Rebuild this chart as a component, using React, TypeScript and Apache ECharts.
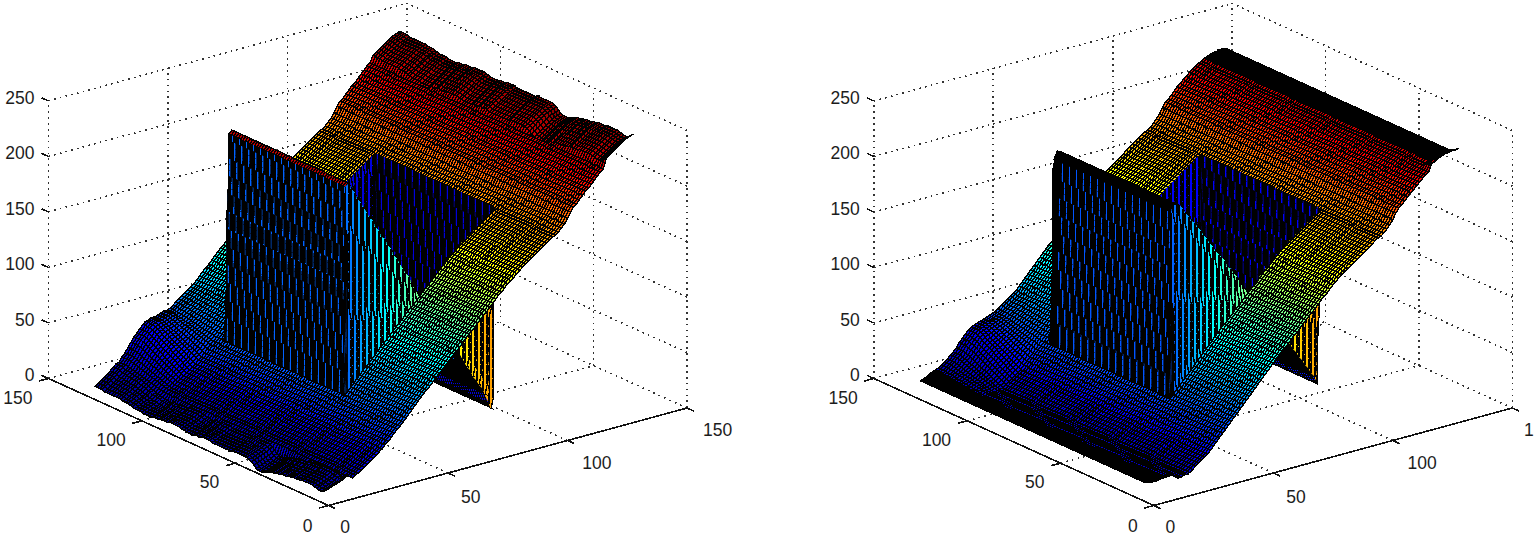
import React, { useEffect, useRef } from "react";
import * as echarts from "echarts";

const xTicks = [0, 50, 100, 150];
const yTicks = [0, 50, 100, 150];
const zTicks = [0, 50, 100, 150, 200, 250];
const xTickLabels = ["0", "50", "100", "150"];
const xTickLabelsRight = ["0", "50", "100", "1"];
const yTickLabels = ["0", "50", "100", "150"];
const zTickLabels = ["0", "50", "100", "150", "200", "250"];

// height read along x (one value every 1.25 units)
const leftRamp = [9,10,11,12,13,14,16,17,19,21,22,24,26,28,30,32,34,36,38,41,43,46,49,52,54,57,60,63,66,69,72,75,78,80,83,86,89,92,94,97,100,103,106,108,111,114,117,120,122,125,128,131,134,136,139,142,145,148,150,153,156,158,160,163,165,167,169,171,173,175,177,179,181,183,185,187,188,190,193,196,200,205,209,211,214,217,220,222,225,228,231,234,236,239,241,243,245,247,249,251,252,253,254];
const rightRamp = [17,17,17,18,18,18,18,19,19,19,20,20,21,23,25,27,29,31,33,36,39,42,45,48,51,54,57,60,63,66,69,72,75,78,81,84,87,90,93,96,99,102,105,108,110,113,116,119,121,124,127,130,133,135,138,141,144,147,149,152,155,157,160,162,164,166,168,170,172,174,176,178,180,182,184,186,187,189,192,195,199,204,208,210,213,216,219,221,224,226,229,231,233,235,236,238,239,240,241,241,242,242,242];
// height read inside the raised block, over columns 26 to 75
const leftBlock = [243,246,240,235,230,225,220,215,210,205,200,195,190,186,181,176,171,166,161,156,151,146,141,136,131,127,122,117,113,108,103,98,93,89,84,79,75,70,65,60,56,51,46,41,37,32,27,22,13,8];
const rightBlock = [220,227,226,224,220,216,212,208,204,200,196,192,188,184,179,175,171,167,163,158,154,150,146,142,137,133,129,125,121,116,112,108,104,100,96,91,87,83,79,75,71,67,62,58,54,50,46,42,37,30];
// offsets read along y from the rough silhouette at the two rims of the surface (one value every 1.25 units)
const leftRowBump = [6,4,2,1,1,2,2,3,3,3,3,3,2,2,2,2,1,1,0,0,0,-1,-1,-2,-2,-3,-4,-5,-6,-6,-6,-5,-3,-1,0,1,1,1,1,1,1,1,0,0,0,0,0,0,0,0,0,1,1,1,1,0,0,0,-1,-1,-1,-1,0,0,1,1,1,1,1,0,0,0,0,-1,-1,-1,-2,-2,-2,-2,-1,-1,-1,-1,0,0,1,1,1,2,2,2,2,2,2,2,2,3,3,3,3];
const rightRowBump = [5,3,2,1,0,0,0,0,0,0,0,0,0,0,0,0,0,0,0,0,0,0,0,0,0,0,0,0,0,0,0,0,0,0,0,0,0,0,0,0,0,0,0,0,0,0,0,0,0,0,0,0,0,0,0,0,0,0,0,0,0,0,0,0,0,0,0,0,0,0,0,0,0,0,0,0,0,0,0,0,0,0,0,0,0,0,0,0,0,0,0,0,0,0,0,0,0,0,0,0,0];
// lift of the far y edge over its first columns (the shoulder in its silhouette)
const farEdgeLift = [0,1,2,3,4,5,6,7,9,11,13,15,17,19,20,21,22,22,21,19,17,15,13,11,9,7,6,5,4,3,2,1,0];
const farEdgeWeight = [0.06,0.12,0.18,0.24,0.3,0.36,0.42,0.48,0.54,0.6,0.66,0.72,0.78,0.84,0.9,0.95,1,1,1,1];

const GRID_STEP = 1.25;
const BLOCK_I0 = 26, BLOCK_I1 = 75, BLOCK_J0 = 26, BLOCK_J1 = 76;
const ROW_COUNT = 101;

const O = [328.5, 505.5];
const EX = [2.39, -0.65];
const EY = [-1.867, -0.847];
const EZ = -1.11;
const RIGHT_SHIFT = 825.3;
const WALL_LINE = 1.3;
const MESH_LINE = 1.4;
const STRIPE_EVERY = 3;
const STRIPE_STEP_PX = 18;
const STRIPE_WIDTH = 0.55;
const PIECE_PX = 6;

function jet(t: number) {
  const c = (v: number) => Math.round(255 * Math.max(0, Math.min(1, v)));
  const r = Math.min(4 * t - 1.5, -4 * t + 4.5);
  const g = Math.min(4 * t - 0.5, -4 * t + 3.5);
  const b = Math.min(4 * t + 0.5, -4 * t + 2.5);
  return `rgb(${c(r)},${c(g)},${c(b)})`;
}

function proj(shift: number, x: number, y: number, z: number) {
  return [O[0] + shift + EX[0] * x + EY[0] * y, O[1] + EX[1] * x + EY[1] * y + EZ * z];
}
const snap = (v: number) => Math.round((v - 1) / 2) * 2 + 1;

type Panel = { shift: number; ramp: number[]; block: number[]; bump: number[]; rim: boolean; xLabels: string[] };
const panels: Panel[] = [
  { shift: 0, ramp: leftRamp, block: leftBlock, bump: leftRowBump, rim: false, xLabels: xTickLabels },
  { shift: RIGHT_SHIFT, ramp: rightRamp, block: rightBlock, bump: rightRowBump, rim: true, xLabels: xTickLabelsRight },
];

const inBlock = (i: number, j: number) => i >= BLOCK_I0 && i <= BLOCK_I1 && j >= BLOCK_J0 && j <= BLOCK_J1;

function heightAt(p: Panel, i: number, j: number) {
  if (inBlock(i, j)) return p.block[i - BLOCK_I0];
  let h = p.ramp[i];
  if (i < 8 || i > 92) h += p.bump[j];
  const w = j - (ROW_COUNT - farEdgeWeight.length);
  if (w >= 0 && i < farEdgeLift.length) h += farEdgeLift[i] * farEdgeWeight[w];
  return h;
}

function surfaceSeries(p: Panel, name: string) {
  const cols = p.ramp.length;
  const cells: number[][] = [];
  for (let i = cols - 2; i >= 0; i--) for (let j = ROW_COUNT - 2; j >= 0; j--) cells.push([i, j]);
  return {
    type: "custom", name, z: 3, silent: true, clip: false, progressive: 0, animation: false,
    data: cells, encode: { x: 0, y: 1 },
    renderItem(params: any, api: any) {
      const [i, j] = cells[params.dataIndex];
      const corner = (a: number, b: number) => api.coord(proj(p.shift, a * GRID_STEP, b * GRID_STEP, heightAt(p, a, b)));
      const h00 = heightAt(p, i, j), h10 = heightAt(p, i + 1, j), h01 = heightAt(p, i, j + 1), h11 = heightAt(p, i + 1, j + 1);
      let fill = jet((inBlock(i, j) ? h00 : p.ramp[i]) / 258);
      const inJ = j >= BLOCK_J0 && j <= BLOCK_J1;
      if (j === BLOCK_J1 && i >= BLOCK_I0 && i <= BLOCK_I1) fill = jet(p.rim ? 0.12 : 0.09);
      if (i === BLOCK_I1 && inJ) fill = jet(p.rim ? 0.12 : 0.09);
      if (p.rim && (i < 5 || i >= 95)) fill = "#000";
      if (p.rim && i >= BLOCK_I0 && i <= BLOCK_I0 + 1 && inJ) fill = "#000";
      if (p.rim && i === BLOCK_I0 - 1 && j >= BLOCK_J1 - 2 && j <= BLOCK_J1) fill = "#000";
      const A = corner(i, j), B = corner(i + 1, j), C = corner(i + 1, j + 1), D = corner(i, j + 1);
      const alongI = Math.abs(h10 - h00) > 25 || Math.abs(h11 - h01) > 25;
      const alongJ = Math.abs(h01 - h00) > 25 || Math.abs(h11 - h10) > 25;
      if (!alongI && !alongJ) {
        return {
          type: "polygon",
          shape: { points: [A, B, C, D] },
          style: { fill, stroke: "#000", lineWidth: MESH_LINE },
        };
      }
      const lerp = (a: any, b: any, t: number) => [a[0] + (b[0] - a[0]) * t, a[1] + (b[1] - a[1]) * t];
      const children: any[] = [];
      if (alongI) {
        // wall facing the viewer along x: the dense mesh leaves only thin staggered stripes of colour
        const dh = Math.max(Math.abs(h10 - h00), Math.abs(h11 - h01));
        const hPx = dh * 1.11;
        const n = Math.max(1, Math.ceil(hPx / PIECE_PX));
        for (let k = 0; k < n; k++) {
          const stagger = Math.floor(((k / n) * hPx) / STRIPE_STEP_PX);
          const lit = fill !== "#000" && ((j - stagger) % STRIPE_EVERY + STRIPE_EVERY) % STRIPE_EVERY === 0;
          const p0 = lerp(A, B, k / n), p1 = lerp(A, B, (k + 1) / n);
          const q0 = lerp(D, C, k / n), q1 = lerp(D, C, (k + 1) / n);
          children.push({ type: "polygon", shape: { points: [p0, p1, q1, q0] }, style: { fill: "#000", stroke: "#000", lineWidth: 0.6 } });
          if (lit) {
            const a0 = lerp(p0, q0, STRIPE_WIDTH), a1 = lerp(p1, q1, STRIPE_WIDTH);
            children.push({ type: "polygon", shape: { points: [p0, p1, a1, a0] }, style: { fill, stroke: fill, lineWidth: 0.2 } });
          }
        }
        return { type: "group", children };
      }
      // wall facing the viewer along y: split its height so each piece falls on the pixel lattice on its own
      const sn = (q: number[]) => [snap(q[0]), snap(q[1])];
      const dh = Math.max(Math.abs(h01 - h00), Math.abs(h11 - h10));
      const n = Math.max(1, Math.ceil((dh * 1.11) / 10));
      for (let k = 0; k < n; k++) {
        const p0 = sn(lerp(A, D, k / n)), p1 = sn(lerp(A, D, (k + 1) / n));
        const q0 = sn(lerp(B, C, k / n)), q1 = sn(lerp(B, C, (k + 1) / n));
        children.push({ type: "polygon", shape: { points: [p0, p1, q1, q0] }, style: { fill, stroke: fill, lineWidth: 0.6 } });
        children.push({ type: "polyline", shape: { points: [p0, p1] }, style: { fill: "none", stroke: "#000", lineWidth: WALL_LINE } });
        children.push({ type: "polyline", shape: { points: [q0, q1] }, style: { fill: "none", stroke: "#000", lineWidth: WALL_LINE } });
      }
      return { type: "group", children };
    },
  };
}

function frameSeries(p: Panel, name: string) {
  const M = 150, T = 250;
  type Seg = { a: number[]; b: number[]; solid: boolean };
  const s: Seg[] = [];
  const dot = (a: number[], b: number[]) => s.push({ a, b, solid: false });
  xTicks.forEach((x) => { if (x > 0) dot([x, 0, 0], [x, M, 0]); dot([x, M, 0], [x, M, T]); });
  yTicks.forEach((y) => { if (y > 0) dot([0, y, 0], [M, y, 0]); dot([M, y, 0], [M, y, T]); });
  zTicks.forEach((z) => { dot([0, M, z], [M, M, z]); dot([M, 0, z], [M, M, z]); });
  const solid = (a: number[], b: number[]) => s.push({ a, b, solid: true });
  solid([0, 0, 0], [M, 0, 0]);
  solid([0, 0, 0], [0, M, 0]);
  xTicks.forEach((x) => solid([x, 0, 0], [x, -3.6, 0]));
  yTicks.forEach((y) => solid([0, y, 0], [-4, y, 0]));
  zTicks.forEach((z) => solid([0, M, z], [0, M + 3.7, z]));
  return {
    type: "custom", name, z: 2, silent: true, clip: false, animation: false,
    data: s.map((_, i) => [i, i]), encode: { x: 0, y: 1 },
    renderItem(params: any, api: any) {
      const g = s[params.dataIndex];
      const a = api.coord(proj(p.shift, g.a[0], g.a[1], g.a[2]));
      const b = api.coord(proj(p.shift, g.b[0], g.b[1], g.b[2]));
      return {
        type: "line",
        shape: { x1: a[0], y1: a[1], x2: b[0], y2: b[1] },
        style: g.solid
          ? { stroke: "#111", lineWidth: 1.6 }
          : { stroke: "#333", lineWidth: 1.6, lineDash: [1.7, 4.2] },
      };
    },
  };
}

const xLabelDx = [11.7, 13, 14.7, 16];
const xLabelDy = [21, 23.5, 22, 22];
const yLabelDy = [20.5, 19, 19, 20];

function labelSeries(p: Panel, name: string) {
  const M = 150;
  type L = { text: string; at: number[]; dx: number; dy: number; align: string };
  const l: L[] = [];
  xTicks.forEach((x, k) => {
    const dx = p.rim && k === xTicks.length - 1 ? 11.7 : xLabelDx[k];
    l.push({ text: p.xLabels[k], at: [x, 0, 0], dx, dy: xLabelDy[k], align: "left" });
  });
  yTicks.forEach((y, k) => l.push({ text: yTickLabels[k], at: [0, y, 0], dx: -16, dy: yLabelDy[k], align: "right" }));
  zTicks.forEach((z, k) => l.push({ text: zTickLabels[k], at: [0, M, z], dx: -14, dy: -3, align: "right" }));
  return {
    type: "custom", name, z: 4, silent: true, clip: false, animation: false,
    data: l.map((_, i) => [i, i]), encode: { x: 0, y: 1 },
    renderItem(params: any, api: any) {
      const t = l[params.dataIndex];
      const q = api.coord(proj(p.shift, t.at[0], t.at[1], t.at[2]));
      return {
        type: "text", x: q[0] + t.dx, y: q[1] + t.dy,
        style: {
          text: t.text, fill: "#1c1c1c", font: '17.5px "Liberation Sans", Arial, sans-serif',
          align: t.align, verticalAlign: "middle",
        },
      };
    },
  };
}

export default function App() {
  const ref = useRef<HTMLDivElement>(null);
  useEffect(() => {
    const chart = echarts.init(ref.current!, undefined, { renderer: "svg" });
    chart.setOption({
      animation: false,
      backgroundColor: "#fff",
      grid: { left: 0, top: 0, width: 1534, height: 535, show: false },
      xAxis: { type: "value", min: 0, max: 1534, show: false },
      yAxis: { type: "value", min: 0, max: 535, inverse: true, show: false },
      series: [
        frameSeries(panels[0], "Left frame"),
        frameSeries(panels[1], "Right frame"),
        surfaceSeries(panels[0], "Left surface"),
        surfaceSeries(panels[1], "Right surface"),
        labelSeries(panels[0], "Left labels"),
        labelSeries(panels[1], "Right labels"),
      ],
    });
    return () => chart.dispose();
  }, []);
  return (
    <>
      <style>{`svg path{shape-rendering:crispEdges}`}</style>
      <div ref={ref} style={{ position: "fixed", left: 0, top: 0, width: 1534, height: 535 }} />
    </>
  );
}
